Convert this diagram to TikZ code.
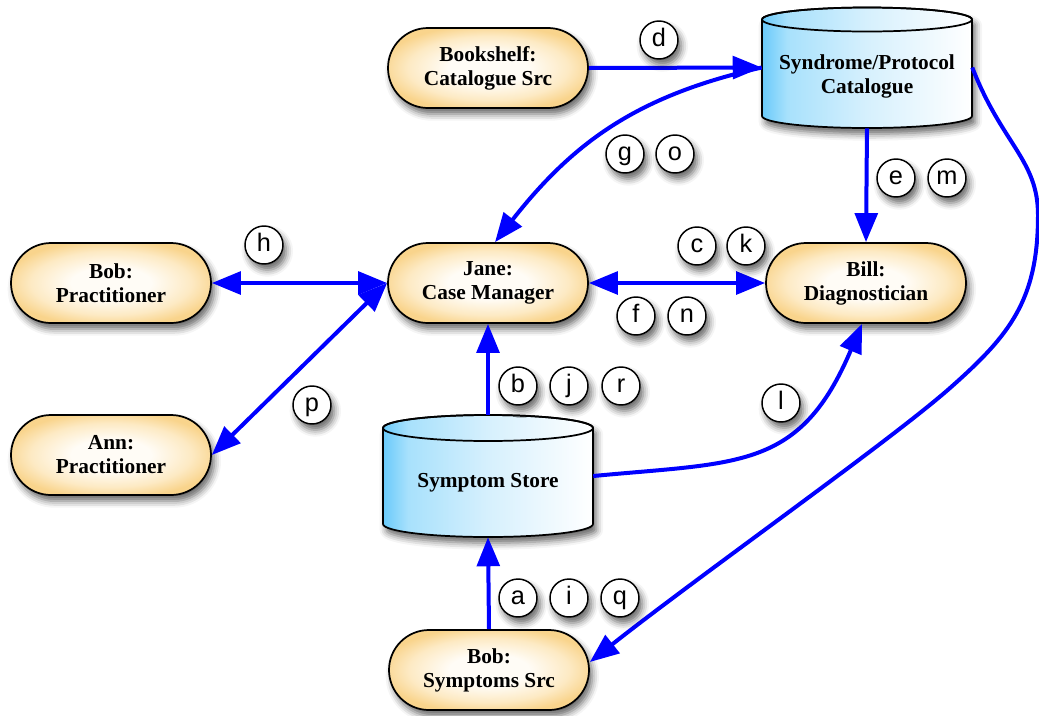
\documentclass[tikz,border=0pt]{standalone}
\usepackage{fontspec}
\setmainfont{Liberation Serif}
\newfontfamily\lblfont{Liberation Sans}
\usetikzlibrary{arrows.meta,shadows.blur,calc}
\definecolor{flowblue}{RGB}{0,0,255}
\definecolor{orgout}{RGB}{249,212,140}
\definecolor{orgmid}{RGB}{253,234,196}
\definecolor{orgin}{RGB}{255,252,246}
\definecolor{cylA}{RGB}{105,202,250}
\definecolor{cylB}{RGB}{168,225,252}
\definecolor{cylC}{RGB}{214,240,253}
\pgfdeclarehorizontalshading{cylshade}{100bp}{color(0bp)=(cylA); color(25bp)=(cylA); color(31bp)=(cylB); color(50bp)=(cylC); color(75bp)=(white); color(100bp)=(white)}
\pgfdeclareradialshading{actorshade}{\pgfpoint{0bp}{0bp}}{color(0bp)=(orgin); color(10bp)=(orgin); color(20bp)=(orgmid); color(27bp)=(orgout); color(50bp)=(orgout)}
\begin{document}
\begin{tikzpicture}[x=0.75pt,y=-0.75pt,
  shadowed/.style={blur shadow={shadow xshift=2.5pt,shadow yshift=-4.5pt,shadow blur radius=5pt,shadow opacity=60}},
  actor/.style={shape=rectangle, rounded corners=30pt, minimum width=150pt, minimum height=60pt,
    draw=black, line width=1.3pt, shade, shading=actorshade,
    align=center, font=\fontsize{16}{18}\selectfont\bfseries, inner sep=0pt, shadowed},
  cylnode/.style={shape=rectangle, minimum width=157.5pt, inner sep=0pt},
  cyltext/.style={align=center, font=\fontsize{16}{18}\selectfont\bfseries, inner sep=0pt},
  cylbody/.style={shade, shading=cylshade, draw=black, line width=1.3pt, shadowed},
  tag/.style={circle, draw=black, line width=1.1pt, fill=white, minimum size=28.5pt, inner sep=0pt,
    font=\lblfont\fontsize{19}{19}\selectfont, text height=13.9pt, text depth=4pt, shadowed},
  flow/.style={draw=flowblue, line width=3pt, -{Triangle[length=21.75pt,width=17pt]}},
  flowboth/.style={draw=flowblue, line width=3pt, {Triangle[length=21.75pt,width=17pt]}-{Triangle[length=21.75pt,width=17pt]}}
]
\useasboundingbox (0,0) rectangle (1039,715);

% cylinders
\path[cylbody] (762,19.5) -- (762,116) arc[start angle=180,end angle=360,x radius=78.75pt,y radius=9pt]
  -- (972,19.5) arc[start angle=0,end angle=180,x radius=78.75pt,y radius=9pt] -- cycle;
\draw[line width=1.3pt] (867,19.5) ellipse[x radius=78.75pt,y radius=9pt];
\node[cylnode, minimum height=90.75pt] (cat) at (867,67.5) {};
\node[cyltext] (catlbl) at (867,76) {Syndrome/Protocol\\Catalogue};

\path[cylbody] (383,428) -- (383,524) arc[start angle=180,end angle=360,x radius=78.75pt,y radius=9.75pt]
  -- (593,428) arc[start angle=0,end angle=180,x radius=78.75pt,y radius=9.75pt] -- cycle;
\draw[line width=1.3pt] (488,428) ellipse[x radius=78.75pt,y radius=9.75pt];
\node[cylnode, minimum height=91.5pt] (store) at (488,476) {};
\node[cyltext] (storelbl) at (488,483) {Symptom Store};

% actors
\node[actor] (bookshelf) at (488,68) {Bookshelf:\\Catalogue Src};
\node[actor] (bobp) at (111,283) {Bob:\\Practitioner};
\node[actor] (jane) at (488,283) {Jane:\\Case Manager};
\node[actor] (bill) at (866,283) {Bill:\\Diagnostician};
\node[actor] (ann) at (111,455) {Ann:\\Practitioner};
\node[actor] (bobsrc) at (489,670) {Bob:\\Symptoms Src};

% connectors
\draw[flow] (bookshelf.east) -- (cat.west);
\draw[flow] (cat.west) .. controls (640,95) and (575,140) .. ($(jane.north)+(7,0)$);
\draw[flow] (cat.south) -- (bill.north);
\draw[flowboth] (bobp.east) -- (jane.west);
\draw[flowboth] (jane.east) -- (bill.west);
\draw[flowboth] (jane.west) -- (ann.east);
\draw[flow] (store.north) -- (jane.south);
\draw[flow] (bobsrc.north) -- (store.south);
\draw[flow] (store.east) .. controls (740,462) and (800,470) .. ($(bill.south)+(-4,0)$);
\draw[flow] (cat.east) .. controls (1002,144) and (1038,160) .. (1038,215)
  .. controls (1038,300) and (1010,335) .. (950,388)
  .. controls (890,441) and (700,575) .. ($(bobsrc.east)+(0,-8)$);

% tags
\node[tag] (td) at (659,40) {d};
\node[tag] (tg) at (625,154) {g};
\node[tag] (to) at (675,154) {o};
\node[tag] (te) at (896,178) {e};
\node[tag] (tm) at (947,178) {m};
\node[tag] (th) at (264,245) {h};
\node[tag] (tc) at (697,246) {c};
\node[tag] (tk) at (746,246) {k};
\node[tag] (tf) at (636,316) {f};
\node[tag] (tn) at (687,316) {n};
\node[tag] (tb) at (518,386) {b};
\node[tag] (tj) at (569,386) {j};
\node[tag] (tr) at (621,386) {r};
\node[tag] (tp) at (312,405) {p};
\node[tag] (tl) at (781,403) {l};
\node[tag] (ta) at (518,598) {a};
\node[tag] (ti) at (569,598) {i};
\node[tag] (tq) at (620,598) {q};
\end{tikzpicture}
\end{document}
